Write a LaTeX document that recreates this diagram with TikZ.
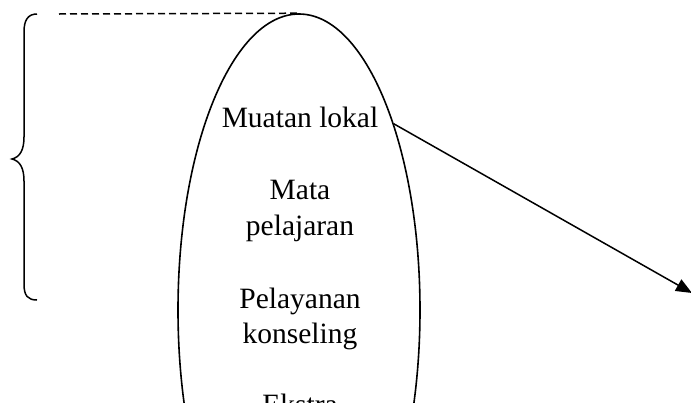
\documentclass[tikz,border=0pt]{standalone}
\usepackage{fontspec}
\setmainfont{Liberation Serif}
\usetikzlibrary{shapes.geometric,arrows.meta}
\begin{document}
\begin{tikzpicture}[x=1pt,y=-1pt,
  lbl/.style={anchor=base,inner sep=0pt,font=\fontsize{29.5}{36}\selectfont},
  oval/.style={draw,ellipse,line width=1.6pt,minimum width=242pt,minimum height=592pt,inner sep=0pt},
  conn/.style={line width=1.5pt,-{Triangle[length=16pt,width=13pt]}},
  dash line/.style={line width=1.5pt,dash pattern=on 7pt off 4pt},
  bracket/.style={line width=1.5pt}]
\useasboundingbox (0,0) rectangle (691,402);
\node[oval] (ell) at (299,310) {};
\node[lbl] (ml) at (300,127) {Muatan lokal};
\node[lbl] (mp1) at (300,199) {Mata};
\node[lbl] (mp2) at (300,235) {pelajaran};
\node[lbl] (pk1) at (300,308) {Pelayanan};
\node[lbl] (pk2) at (300,343) {konseling};
\node[lbl] (ek) at (300,414) {Ekstra};
\coordinate (dstart) at (59,14);
\coordinate (tip) at (692,293);
\draw[dash line] (dstart) -- (ell.north);
\draw[conn] (ell.63) -- (tip);
\draw[bracket] (37,14) .. controls (28,14) and (24,20) .. (24,32)
  -- (24,137) .. controls (24,150) and (20,157) .. (12,159)
  .. controls (20,161) and (24,168) .. (24,181)
  -- (24,284) .. controls (24,296) and (28,300) .. (37,300);
\end{tikzpicture}
\end{document}
